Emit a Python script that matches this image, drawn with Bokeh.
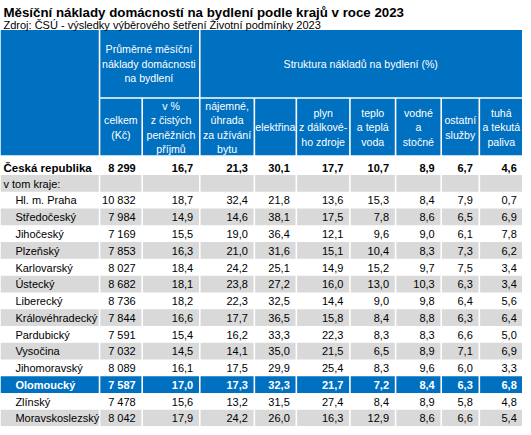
from bokeh.plotting import figure
from bokeh.models import Range1d
from bokeh.core.properties import value
from bokeh.embed import file_html
from bokeh.resources import INLINE

# ---------------- data ----------------
title = "Měsíční náklady domácností na bydlení podle krajů v roce 2023"
subtitle = "Zdroj: ČSÚ - výsledky výběrového šetření Životní podmínky 2023"

group1_header = ["Průměrné měsíční", "náklady domácnosti", "na bydlení"]
group2_header = ["Struktura nákladů na bydlení (%)"]
column_headers = [
    ["celkem", "(Kč)"],
    ["v %", "z čistých", "peněžních", "příjmů"],
    ["nájemné,", "úhrada", "za užívání", "bytu"],
    ["elektřina"],
    ["plyn", "z dálkové-", "ho zdroje"],
    ["teplo", "a teplá", "voda"],
    ["vodné", "a", "stočné"],
    ["ostatní", "služby"],
    ["tuhá", "a tekutá", "paliva"],
]
decimals = [0, 1, 1, 1, 1, 1, 1, 1, 1]

total_label = "Česká republika"
subhead_label = "v tom kraje:"
total_values = [8299, 16.7, 21.3, 30.1, 17.7, 10.7, 8.9, 6.7, 4.6]

regions = ["Hl. m. Praha", "Středočeský", "Jihočeský", "Plzeňský", "Karlovarský",
           "Ústecký", "Liberecký", "Královéhradecký", "Pardubický", "Vysočina",
           "Jihomoravský", "Olomoucký", "Zlínský", "Moravskoslezský"]
highlight_region = "Olomoucký"

celkem_kc = [10832, 7984, 7169, 7853, 8027, 8682, 8736, 7844, 7591, 7032, 8089, 7587, 7478, 8042]
podil_prijmu = [18.7, 14.9, 15.5, 16.3, 18.4, 18.1, 18.2, 16.6, 15.4, 14.5, 16.1, 17.0, 15.6, 17.9]
najemne = [32.4, 14.6, 19.0, 21.0, 24.2, 23.8, 22.3, 17.7, 16.2, 14.1, 17.5, 17.3, 13.2, 24.2]
elektrina = [21.8, 38.1, 36.4, 31.6, 25.1, 27.2, 32.5, 36.5, 33.3, 35.0, 29.9, 32.3, 31.5, 26.0]
plyn = [13.6, 17.5, 12.1, 15.1, 14.9, 16.0, 14.4, 15.8, 22.3, 21.5, 25.4, 21.7, 27.4, 16.3]
teplo = [15.3, 7.8, 9.6, 10.4, 15.2, 13.0, 9.0, 8.4, 8.3, 6.5, 8.3, 7.2, 8.4, 12.9]
vodne = [8.4, 8.6, 9.0, 8.3, 9.7, 10.3, 9.8, 8.8, 8.3, 8.9, 9.6, 8.4, 8.9, 8.6]
ostatni = [7.9, 6.5, 6.1, 7.3, 7.5, 6.3, 6.4, 6.3, 6.6, 7.1, 6.0, 6.3, 5.8, 6.6]
tuha_paliva = [0.7, 6.9, 7.8, 6.2, 3.4, 3.4, 5.6, 6.4, 5.0, 6.9, 3.3, 6.8, 4.8, 5.4]

region_columns = [celkem_kc, podil_prijmu, najemne, elektrina, plyn, teplo, vodne, ostatni, tuha_paliva]

# ---------------- layout / style ----------------
FONT = "Liberation Sans"
BLUE = "#0070C0"
GREY = "#D9D9D9"
GAP = 1.6
col_edges = [5, 104, 147, 205, 260, 302.3, 356.3, 402.3, 448.3, 486.7, 531]
HEAD_TOP, HEAD_MID, HEAD_BOT = 33, 101, 160
ROW_H = 17
FIRST_ROW_TOP = 180
PAD = 5.8
LINE = 14.7


def fmt(v, d):
    if d == 0:
        return f"{v:,.0f}".replace(",", " ")
    return f"{v:.{d}f}".replace(".", ",")


p = figure(width=522, height=426, x_range=Range1d(5, 531), y_range=Range1d(435, 3),
           output_backend="svg", toolbar_location=None,
           x_axis_type=None, y_axis_type=None, min_border=0,
           outline_line_color=None, background_fill_color="white",
           border_fill_color="white")

L, R, T, B, C = [], [], [], [], []


def cell(x0, x1, y0, y1, color, first=False):
    L.append(x0 + (0 if first else GAP))
    R.append(x1)
    T.append(y0)
    B.append(y1)
    C.append(color)


# header cells
cell(col_edges[0], col_edges[1], HEAD_TOP, HEAD_BOT, BLUE, first=True)
cell(col_edges[1], col_edges[3], HEAD_TOP, HEAD_MID, BLUE)
cell(col_edges[3], col_edges[-1], HEAD_TOP, HEAD_MID, BLUE)
for c in range(1, 10):
    cell(col_edges[c], col_edges[c + 1], HEAD_MID + GAP, HEAD_BOT, BLUE)

# body rows (subhead + regions)
body_labels = [subhead_label] + regions
for i, lab in enumerate(body_labels):
    y0 = FIRST_ROW_TOP + i * ROW_H
    y1 = y0 + ROW_H
    if lab == highlight_region:
        color = BLUE
    elif i % 2 == 0:
        color = GREY
    else:
        color = None
    if color:
        for c in range(10):
            cell(col_edges[c], col_edges[c + 1], y0, y1, color, first=(c == 0))

p.quad(left=L, right=R, top=T, bottom=B, fill_color=C, line_color=None)


def add_text(xs, ys, texts, align="left", color="black", style="normal",
             size="11px", baseline="middle"):
    p.text(x=xs, y=ys, text=texts, text_align=align, text_baseline=baseline,
           text_color=color, text_font=value(FONT), text_font_style=style,
           text_font_size=size)


# title and source
add_text([8], [15.0], [title], style="bold", size="13.3px", baseline="alphabetic")
add_text([8], [28.0], [subtitle], size="11px", baseline="alphabetic")

# header texts
hx, hy, ht = [], [], []
cx = (col_edges[1] + col_edges[3]) / 2
for k, line in enumerate(group1_header):
    hx.append(cx)
    hy.append(67 + (k - (len(group1_header) - 1) / 2) * LINE)
    ht.append(line)
cx = (col_edges[3] + col_edges[-1]) / 2
hx.append(cx)
hy.append(67)
ht.append(group2_header[0])
for c, lines in enumerate(column_headers, start=1):
    cx = (col_edges[c] + col_edges[c + 1]) / 2 + GAP / 2
    for k, line in enumerate(lines):
        hx.append(cx)
        hy.append(131.7 + (k - (len(lines) - 1) / 2) * LINE)
        ht.append(line)
add_text(hx, hy, ht, align="center", color="white", size="10.6px")

# total row (bold)
ty = 172.5
add_text([8], [ty], [total_label], style="bold", size="11.5px")
add_text([col_edges[c + 1] - PAD for c in range(1, 10)], [ty] * 9,
         [fmt(v, d) for v, d in zip(total_values, decimals)], align="right", style="bold")

# subhead
add_text([8], [FIRST_ROW_TOP + ROW_H / 2 + 0.5], [subhead_label])

# regions
nx, ny, nt = [], [], []
lx, ly, lt = [], [], []
for r, name in enumerate(regions):
    yc = FIRST_ROW_TOP + (r + 1) * ROW_H + ROW_H / 2 + 0.3
    vals = [fmt(col[r], d) for col, d in zip(region_columns, decimals)]
    xs = [col_edges[c + 1] - PAD for c in range(1, 10)]
    if name == highlight_region:
        add_text([20], [yc], [name], color="white", style="bold")
        add_text(xs, [yc] * 9, vals, align="right", color="white", style="bold")
    else:
        lx.append(20); ly.append(yc); lt.append(name)
        nx += xs; ny += [yc] * 9; nt += vals
add_text(lx, ly, lt)
add_text(nx, ny, nt, align="right")

open("out.html", "w").write(file_html(p, INLINE))
